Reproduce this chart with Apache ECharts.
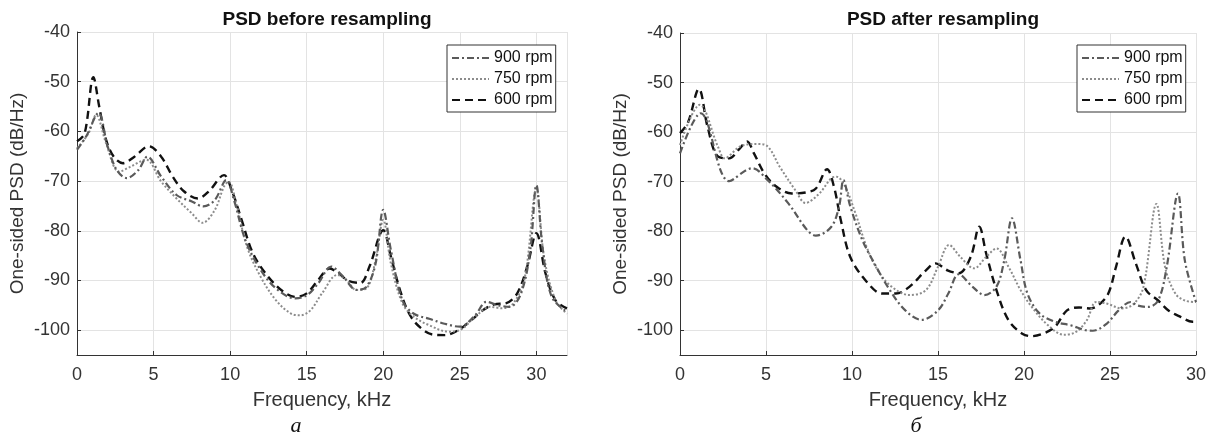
<!DOCTYPE html>
<html><head><meta charset="utf-8">
<script src="https://cdn.jsdelivr.net/npm/echarts@6/dist/echarts.min.js"></script>
<style>html,body{margin:0;padding:0;background:#fff}#c{width:1215px;height:437px}</style>
</head><body><div id="c"></div>
<script>
const seriesNames = ['900 rpm', '750 rpm', '600 rpm'];
const panelTitles = ['PSD before resampling', 'PSD after resampling'];
const panelLetters = ['а', 'б'];
const xName = 'Frequency, kHz';
const yName = 'One-sided PSD (dB/Hz)';

// Panel a: before resampling  [frequency kHz, PSD dB/Hz]
const before900 = [[0,-63.7],[0.6,-61],[1.4,-56.3],[2,-63],[2.6,-67.8],[3.25,-69.4],[4,-67.8],[4.6,-65.1],[5.5,-69.1],[6.5,-72.8],[7.5,-74.1],[8.25,-75.1],[9,-73.8],[9.75,-69.8],[10.25,-73.8],[11,-81.9],[12,-87.9],[13,-91.6],[14.25,-93.6],[15,-93],[15.75,-90.6],[16.6,-87.2],[17.4,-89.3],[18.25,-91.9],[18.9,-91.3],[19.5,-86.6],[20,-75.8],[20.5,-83.9],[21.25,-94],[22,-96.7],[23,-97.7],[24,-98.7],[25,-99.3],[26,-97],[26.75,-94.3],[27.5,-95],[28.25,-95.3],[29,-92.6],[29.6,-83.9],[30,-70.8],[30.4,-83.3],[31,-93.3],[32,-96.3]];
const before750 = [[0,-63.4],[0.75,-60.4],[1.25,-56.7],[1.9,-62.4],[2.75,-68.1],[3.5,-67.1],[4.5,-65.7],[5.5,-70.1],[6.5,-73.5],[7.5,-76.5],[8.2,-78.4],[9,-75.8],[9.6,-71.1],[9.9,-70.1],[10.4,-74.5],[11.1,-83.2],[12,-89.3],[13,-94],[14,-96.7],[14.6,-97],[15.25,-96],[16,-92.6],[17,-88.9],[17.6,-89.9],[18.25,-91.9],[18.9,-91.6],[19.5,-85.9],[20,-77.8],[20.5,-86.6],[21.25,-94.6],[22,-97.3],[23,-99],[24.25,-100.3],[25,-100],[26,-97.3],[27,-95.3],[27.75,-95.6],[28.5,-94.6],[29.25,-89.3],[30,-71.5],[30.5,-85.2],[31.25,-94],[32,-96.7]];
const before600 = [[0,-62],[0.5,-60.4],[1.07,-49.1],[1.45,-55],[1.9,-61.7],[2.4,-65.1],[3,-66.4],[3.75,-65.1],[4.7,-63],[5.5,-65.1],[6.25,-69.1],[7,-72.1],[7.9,-73.5],[8.6,-72.1],[9.6,-68.8],[10.1,-71.8],[10.75,-77.8],[11.5,-84.6],[12.5,-89.3],[13.5,-92.3],[14.25,-93.3],[15,-92.6],[15.75,-89.9],[16.5,-87.6],[17.1,-88.6],[17.75,-90.1],[18.5,-90.5],[19.1,-87.2],[20,-79.9],[20.5,-85.2],[21.1,-92],[21.75,-97],[22.5,-99.7],[23.25,-100.9],[24,-101],[24.9,-100],[25.75,-98],[26.5,-96],[27.25,-94.8],[28,-94.6],[28.75,-92.6],[29.4,-87.2],[30,-80.5],[30.6,-88.6],[31.25,-94],[32,-95.6]];

// Panel б: after resampling
const after900 = [[0,-64.3],[1.2,-56.2],[2.86,-69.9],[4.2,-67.3],[5.1,-69.7],[6.3,-74.4],[7.4,-79.8],[7.9,-80.9],[8.8,-79.1],[9.25,-75],[9.5,-69.7],[9.9,-75],[10.6,-81.8],[11.3,-86.5],[12.2,-91.9],[13.1,-96],[14.05,-97.9],[15,-96],[15.6,-92.6],[16.2,-88.7],[17,-91.2],[17.7,-92.9],[18.4,-91.2],[18.85,-85.9],[19.3,-77.4],[19.8,-85.9],[20.2,-92.6],[20.9,-96.6],[21.8,-98.3],[22.7,-99],[23.6,-100],[24,-100.1],[24.8,-98.7],[25.5,-96],[26.2,-94.3],[26.6,-95],[27.2,-95.3],[27.8,-94],[28.3,-87.2],[28.95,-72.4],[29.35,-85.9],[30,-94.3]];
const after750 = [[0,-62.6],[1.15,-54.5],[2.2,-62.9],[2.6,-65.3],[3.5,-62.9],[4.5,-62.4],[5.1,-62.9],[5.8,-67],[6.7,-71.7],[7.3,-74.3],[8.1,-72.4],[8.8,-69.3],[9.1,-69],[9.6,-71],[10.2,-76.4],[10.85,-83.2],[11.5,-87.9],[12.3,-91.2],[13.35,-92.9],[14.3,-91.9],[15,-87.2],[15.65,-82.8],[16.3,-85.2],[17.1,-87.5],[17.8,-85.2],[18.4,-83.5],[19.1,-87.2],[19.8,-91.9],[20.45,-95.3],[21.4,-99],[22.3,-100.9],[23,-100.4],[23.65,-98],[24.2,-94.3],[24.8,-94.6],[25.7,-95.6],[26.4,-94.6],[26.95,-91.2],[27.7,-74.5],[28.2,-87.2],[28.8,-92.6],[29.35,-94],[30,-94.3]];
const after600 = [[0,-60.2],[0.45,-58.2],[1.1,-51.3],[1.6,-58.9],[2.2,-64.9],[2.86,-65.3],[3.4,-63.6],[3.9,-61.9],[4.3,-64.3],[4.9,-68.3],[5.6,-71],[6.5,-72.4],[7.3,-72.2],[7.9,-71.4],[8.55,-67.5],[8.95,-71],[9.35,-77.8],[9.9,-85.2],[10.85,-90.2],[11.75,-92.6],[12.55,-92.6],[13.35,-91.2],[14.3,-87.9],[14.85,-86.5],[15.55,-87.9],[16.2,-88.5],[16.9,-85.2],[17.4,-79.1],[17.8,-84.5],[18.4,-91.9],[19.1,-98],[19.9,-100.7],[20.45,-101.2],[21.1,-100.7],[21.8,-99.3],[22.5,-96],[23.2,-95.4],[23.8,-95.6],[24.3,-95],[24.9,-92.6],[25.35,-87.2],[25.9,-81.1],[26.5,-86.5],[27.1,-91.9],[27.8,-94],[28.4,-96],[29.1,-97.3],[29.8,-98.3],[30,-98.3]];

const panelData = [[before900, before750, before600], [after900, after750, after600]];
const xMax = [32, 30];

const FONT = '"Liberation Sans", Arial, Helvetica, sans-serif';
const styles = [
  {color: '#5a5a5a', width: 2.2, type: [7, 3, 2, 3]},
  {color: '#8c8c8c', width: 2, type: [2, 2]},
  {color: '#111111', width: 2.4, type: [8, 5]}
];
const grids = [
  {left: 77, top: 32, width: 490, height: 323},
  {left: 680, top: 33, width: 516, height: 322}
];
const centers = [322, 938];
const letterX = [291, 911];
const legendLeft = [447, 1077];

const chart = echarts.init(document.getElementById('c'), null, {renderer: 'canvas'});
const option = {
  backgroundColor: '#fff',
  animation: false,
  textStyle: {fontFamily: FONT},
  title: panelTitles.map((t, i) => ({
    text: t, left: centers[i], top: 5, textAlign: 'center',
    textStyle: {fontFamily: FONT, fontSize: 19, fontWeight: 'bold', color: '#111'}
  })).concat(panelLetters.map((t, i) => ({
    text: t, left: letterX[i], top: 410, textAlign: 'center',
    textStyle: {fontFamily: '"Liberation Serif", "Times New Roman", serif', fontSize: 22, fontStyle: 'italic', fontWeight: 'normal', color: '#111'}
  }))),
  legend: grids.map((g, i) => ({
    data: seriesNames.map(n => ({name: n})),
    orient: 'vertical',
    left: legendLeft[i],
    top: 45,
    itemWidth: 37, itemHeight: 14, itemGap: 5,
    padding: [5, 3, 4, 4],
    borderColor: '#333', borderWidth: 1, backgroundColor: '#fff',
    itemStyle: {opacity: 0},
    textStyle: {fontFamily: FONT, fontSize: 16, color: '#111'},
    selectedMode: false
  })),
  grid: grids,
  xAxis: grids.map((g, i) => ({
    type: 'value', gridIndex: i, min: 0, max: xMax[i], interval: 5,
    name: xName, nameLocation: 'middle', nameGap: 35,
    nameTextStyle: {fontFamily: FONT, fontSize: 20, color: '#333'},
    axisLine: {show: true, onZero: false, lineStyle: {color: '#333', width: 1}},
    axisTick: {show: true, inside: true, length: 4, lineStyle: {color: '#333'}},
    axisLabel: {fontFamily: FONT, fontSize: 18, color: '#333', margin: 11, showMaxLabel: i === 1},
    splitLine: {show: true, lineStyle: {color: '#e3e3e3', width: 1}}
  })),
  yAxis: grids.map((g, i) => ({
    type: 'value', gridIndex: i, min: -105, max: -40, splitNumber: 6,
    name: yName, nameLocation: 'middle', nameGap: 50,
    nameTextStyle: {fontFamily: FONT, fontSize: 19, color: '#333'},
    axisLine: {show: true, onZero: false, lineStyle: {color: '#333', width: 1}},
    axisTick: {show: true, inside: true, length: 4, lineStyle: {color: '#333'}},
    axisLabel: {fontFamily: FONT, fontSize: 18, color: '#333', margin: 7, showMinLabel: false},
    splitLine: {show: true, lineStyle: {color: '#e3e3e3', width: 1}}
  })),
  series: []
};
panelData.forEach((arrs, p) => {
  arrs.forEach((d, k) => {
    option.series.push({
      name: seriesNames[k], type: 'line', xAxisIndex: p, yAxisIndex: p,
      data: d, smooth: 0.35, symbol: 'none', showSymbol: false,
      clip: true,
      lineStyle: {color: styles[k].color, width: styles[k].width, type: styles[k].type},
      itemStyle: {color: styles[k].color},
      z: 10 - k
    });
  });
});
chart.setOption(option);
</script>
</body></html>
